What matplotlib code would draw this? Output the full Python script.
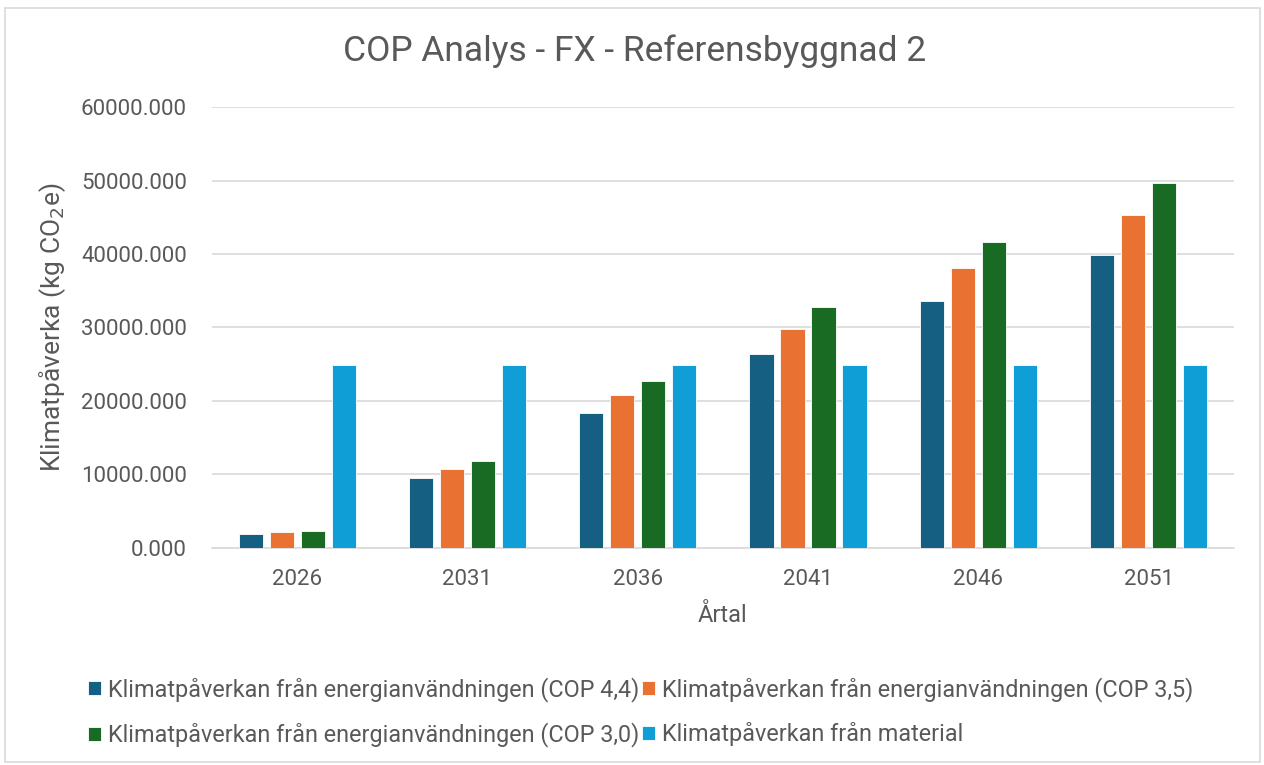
import numpy as np
import matplotlib.pyplot as plt
from matplotlib.patches import Rectangle

plt.rcParams['font.family'] = ['Roboto', 'DejaVu Sans']

years = ['2026', '2031', '2036', '2041', '2046', '2051']
cop_44 = [1850, 9550, 18350, 26350, 33550, 39900]
cop_35 = [2130, 10800, 20800, 29850, 38050, 45300]
cop_30 = [2300, 11850, 22750, 32800, 41650, 49650]
material = [24880, 24880, 24880, 24880, 24880, 24880]

series = [
    ('Klimatpåverkan från energianvändningen (COP 4,4)', cop_44, '#156082'),
    ('Klimatpåverkan från energianvändningen (COP 3,5)', cop_35, '#E97132'),
    ('Klimatpåverkan från energianvändningen (COP 3,0)', cop_30, '#196B24'),
    ('Klimatpåverkan från material', material, '#0F9ED5'),
]

txt = '#595959'
fig = plt.figure(figsize=(12.64, 7.65), dpi=100)
ax = fig.add_axes([0.1677, 0.2837, 0.8083, 0.5764])

x = np.arange(len(years))
step = 0.182
width = 0.142
bars = []
for i, (label, vals, color) in enumerate(series):
    b = ax.bar(x + (i - 1.5) * step, vals, width, color=color, label=label,
               edgecolor='white', linewidth=0.6, zorder=3)
    bars.append(b)

ax.set_xlim(-0.5, 5.5)
ax.set_ylim(0, 60000)
ax.set_yticks(np.arange(0, 60001, 10000))
ax.set_yticklabels([f'{v:.3f}' for v in np.arange(0, 60001, 10000)])
ax.set_xticks(x)
ax.set_xticklabels(years)
ax.tick_params(length=0, labelsize=16, colors=txt)
ax.tick_params(axis='y', pad=18)
ax.tick_params(axis='x', pad=15)
ax.grid(axis='y', color='#d9d9d9', linewidth=1.2, zorder=0)
for s in ['left', 'right', 'top']:
    ax.spines[s].set_visible(False)
ax.spines['bottom'].set_color('#d9d9d9')
ax.spines['bottom'].set_linewidth(1.2)

ax.set_xlabel('Årtal', fontsize=17, color=txt, labelpad=10)
ax.set_ylabel('Klimatpåverka (kg CO$_2$e)', fontsize=19, color=txt, labelpad=9)
fig.suptitle('COP Analys - FX - Referensbyggnad 2', fontsize=25.5, color=txt,
             x=0.502, y=0.955)

# row order: (4,4) (3,5) / (3,0) material
order = [0, 2, 1, 3]
ax.legend([bars[k] for k in order], [series[k][0] for k in order],
          loc='upper left', bbox_to_anchor=(-0.130, -0.272), ncol=2,
          frameon=False, fontsize=16.8, labelcolor=txt, handlelength=0.55,
          handleheight=0.55, handletextpad=0.3, columnspacing=0.12,
          labelspacing=0.87, borderaxespad=0)

fig.add_artist(Rectangle((0.004, 0.004), 0.993, 0.986, transform=fig.transFigure,
                         fill=False, edgecolor='#d9d9d9', linewidth=1.2))

fig.savefig('out.png', dpi=100)
